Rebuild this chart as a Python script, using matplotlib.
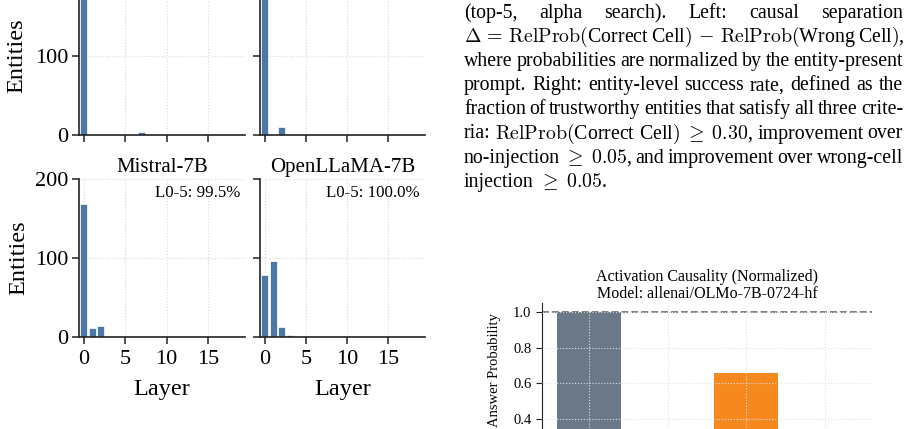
import matplotlib.pyplot as plt
import numpy as np

plt.rcParams['font.family'] = 'Liberation Serif'
plt.rcParams['mathtext.fontset'] = 'cm'

# per-layer entity counts (layers 0..19)
layers = np.arange(20)
top_left_counts = [195, 0, 0, 0, 0, 0, 0, 4, 0, 0, 0, 0, 0, 0, 0, 0, 0, 0, 0, 0]
top_right_counts = [185, 0, 10, 0, 0, 0, 0, 0, 0, 0, 0, 0, 0, 0, 0, 0, 0, 0, 0, 0]
mistral_counts = [168, 11, 14, 0, 0, 0, 0, 0, 0, 0, 0, 0, 0, 0, 0, 0, 0, 0, 0, 0]
openllama_counts = [78, 96, 13, 2, 1, 0, 0, 0, 0, 0, 0, 0, 0, 0, 0, 0, 0, 0, 0, 0]
mistral_share = 99.5
openllama_share = 100.0

# activation causality bars
conditions = ['Entity present', 'No injection', 'Correct cell', 'Wrong cell']
answer_prob = [1.0, 0.12, 0.66, 0.08]
cond_colors = ['#6B7888', '#B0B7C0', '#F5891E', '#D9534F']

W, H = 910, 429
fig = plt.figure(figsize=(W / 100, H / 100), dpi=100)


def px_axes(left, right, top, bottom):
    return fig.add_axes([left / W, 1 - bottom / H, (right - left) / W, (bottom - top) / H])


def hist_panel(ax, counts, show_x):
    ax.bar(layers, counts, width=0.85, color='#4C78A8', edgecolor='white', linewidth=0.5)
    ax.set_xlim(-0.6, 19.5)
    ax.set_ylim(0, 200)
    ax.set_xticks([0, 5, 10, 15])
    ax.set_yticks([0, 100, 200])
    ax.grid(True, linestyle=':', color='#d8d8d8', linewidth=0.8)
    ax.set_axisbelow(True)
    for s in ['top', 'right']:
        ax.spines[s].set_visible(False)
    for s in ['left', 'bottom']:
        ax.spines[s].set_linewidth(1.2)
        ax.spines[s].set_color('#222222')
    ax.tick_params(labelsize=16, length=5, width=1.1, color='#222222', pad=2.5)
    ax.tick_params(axis='x', pad=4.5)
    if not show_x:
        ax.tick_params(labelbottom=False)
        # the 200 tick sits above the picture for the top row
        ax.set_yticks([0, 100])
    else:
        ax.set_xlabel('Layer', fontsize=17.5, labelpad=7)


ax_tl = px_axes(79, 245, -23, 135)
hist_panel(ax_tl, top_left_counts, False)
ax_tl.set_ylabel('Entities', fontsize=17.5, labelpad=6)

ax_tr = px_axes(260, 425, -23, 135)
hist_panel(ax_tr, top_right_counts, False)
ax_tr.tick_params(labelleft=False)

ax_bl = px_axes(79, 245, 179, 337)
hist_panel(ax_bl, mistral_counts, True)
ax_bl.set_ylabel('Entities', fontsize=17.5, labelpad=4)
ax_bl.set_title('Mistral-7B', fontsize=15, pad=5)
ax_bl.text(0.97, 0.965, f'L0-5: {mistral_share:.1f}%', transform=ax_bl.transAxes,
           ha='right', va='top', fontsize=12.2)

ax_br = px_axes(260, 425, 179, 337)
hist_panel(ax_br, openllama_counts, True)
ax_br.tick_params(labelleft=False)
ax_br.set_title('OpenLLaMA-7B', fontsize=15, pad=5)
ax_br.text(0.97, 0.965, f'L0-5: {openllama_share:.1f}%', transform=ax_br.transAxes,
           ha='right', va='top', fontsize=12.2)

# causality chart (bottom part is cut off in the reference)
ax_c = px_axes(542, 872, 303.1, 490.5)
x = np.arange(len(conditions))
ax_c.bar(x, answer_prob, width=0.82, color=cond_colors)
ax_c.axhline(1.0, color='#5a5a5a', linestyle='--', linewidth=1.1, dashes=(4.5, 2))
ax_c.set_xlim(-0.6, 3.6)
ax_c.set_ylim(0, 1.05)
ax_c.set_xticks(x)
ax_c.set_xticklabels([])
ax_c.set_yticks([0.4, 0.6, 0.8, 1.0])
ax_c.grid(True, linestyle=':', color='#e0e0e0', linewidth=0.8)
ax_c.set_axisbelow(False)
for s in ['top', 'right']:
    ax_c.spines[s].set_visible(False)
ax_c.spines['left'].set_color('#222222')
ax_c.tick_params(labelsize=10.5, length=4, color='#222222')
ax_c.set_ylabel('Answer Probability', fontsize=10.5)
ax_c.yaxis.set_label_coords(-0.125, 0.645)
ax_c.set_title('Activation Causality (Normalized)\nModel: allenai/OLMo-7B-0724-hf',
               fontsize=11.5, pad=4, linespacing=1.05)

# caption text, justified word by word
caption_lines = [
    (['(top-5,', 'alpha', 'search).', 'Left:', 'causal', 'separation'], True),
    ([r'$\Delta\,=\,\mathrm{RelProb}($Correct', r'Cell$)\,-\,\mathrm{RelProb}($Wrong',
      r'Cell$)$,'], True),
    ('where probabilities are normalized by the entity-present'.split(), True),
    ('prompt. Right: entity-level success rate, defined as the'.split(), True),
    ('fraction of trustworthy entities that satisfy all three crite-'.split(), True),
    (['ria:', r'$\mathrm{RelProb}($Correct', r'Cell$)\;\geq\;0.30$,',
      'improvement', 'over'], True),
    (['no-injection', r'$\geq\;0.05$,', 'and', 'improvement', 'over', 'wrong-cell'], True),
    (['injection', r'$\geq\;0.05$.'], False),
]
x0, x1 = 464, 903
baseline0, line_step = 18, 24.1
cap_size = 14.3

fig.canvas.draw()
renderer = fig.canvas.get_renderer()
space_w = fig.text(0, 0, 'a a', fontsize=cap_size).get_window_extent(renderer).width - \
    fig.text(0, 0, 'aa', fontsize=cap_size).get_window_extent(renderer).width
for t in fig.texts[-2:]:
    t.remove()

for i, (tokens, justify) in enumerate(caption_lines):
    yb = 1 - (baseline0 + i * line_step) / H
    items = [fig.text(0, yb, tok, fontsize=cap_size, va='baseline', ha='left')
             for tok in tokens]
    widths = [t.get_window_extent(renderer).width for t in items]
    if justify:
        gap = max((x1 - x0 - sum(widths)) / (len(items) - 1), space_w * 0.4)
    else:
        gap = space_w
    xp = x0
    for t, w in zip(items, widths):
        t.set_x(xp / W)
        xp += w + gap

fig.savefig('out.png', dpi=100)
